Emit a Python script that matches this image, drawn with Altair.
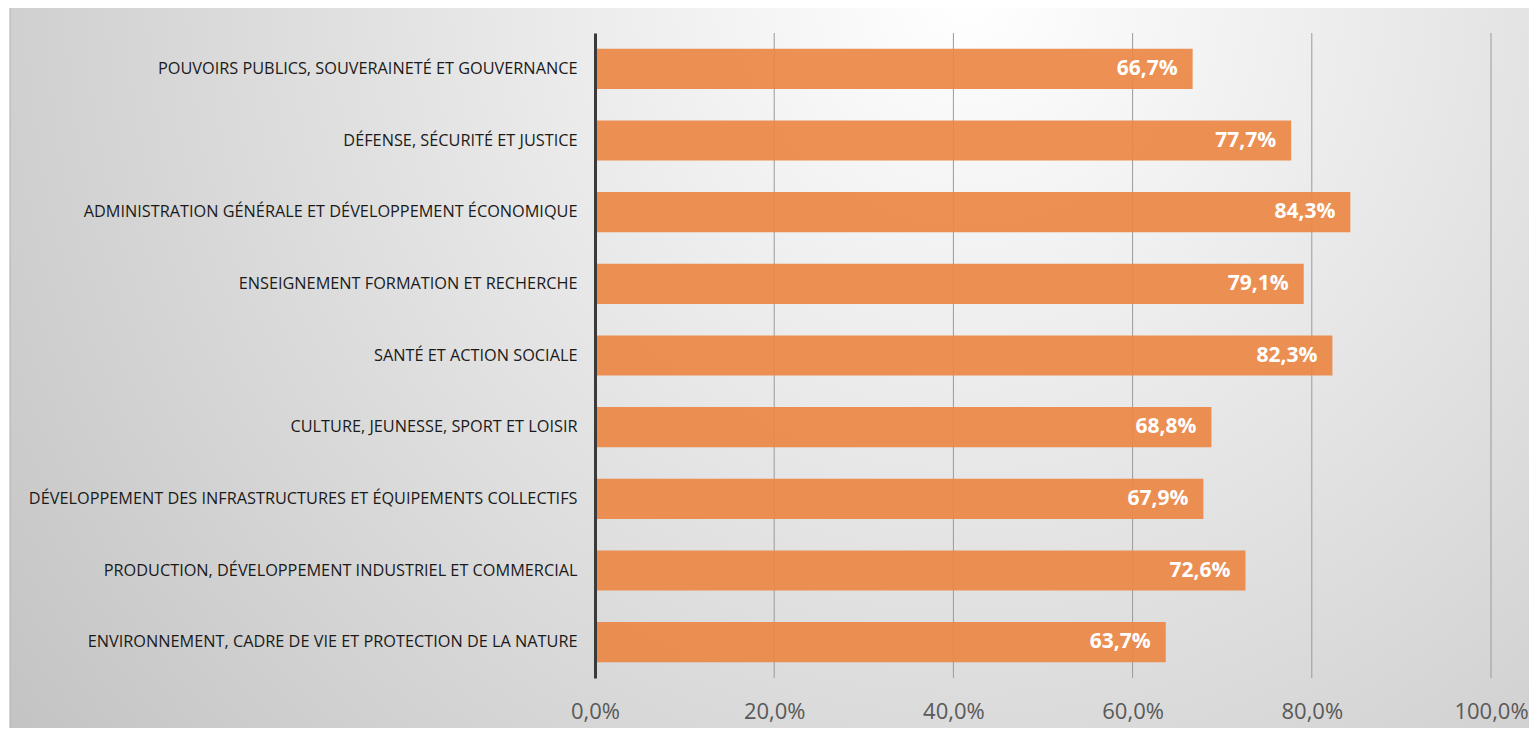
import altair as alt
import pandas as pd

categories = [
    "POUVOIRS PUBLICS, SOUVERAINETÉ ET GOUVERNANCE",
    "DÉFENSE, SÉCURITÉ ET JUSTICE",
    "ADMINISTRATION GÉNÉRALE ET DÉVELOPPEMENT ÉCONOMIQUE",
    "ENSEIGNEMENT FORMATION ET RECHERCHE",
    "SANTÉ ET ACTION SOCIALE",
    "CULTURE, JEUNESSE, SPORT ET LOISIR",
    "DÉVELOPPEMENT DES INFRASTRUCTURES ET ÉQUIPEMENTS COLLECTIFS",
    "PRODUCTION, DÉVELOPPEMENT INDUSTRIEL ET COMMERCIAL",
    "ENVIRONNEMENT, CADRE DE VIE ET PROTECTION DE LA NATURE",
]
values = [66.7, 77.7, 84.3, 79.1, 82.3, 68.8, 67.9, 72.6, 63.7]
x_ticks = [0, 20, 40, 60, 80, 100]
grid_ticks = [20, 40, 60, 80, 100]

df = pd.DataFrame({
    "cat": categories,
    "val": [v / 100 for v in values],
    "label": [f"{v:.1f}".replace(".", ",") + "%" for v in values],
})
grid_df = pd.DataFrame({"g": [t / 100 for t in grid_ticks]})

FONT = "Open Sans"

bg = alt.Chart(pd.DataFrame({"a": [0]})).mark_rect(
    clip=False,
    fill=alt.Gradient(
        gradient="radial",
        x1=0.62, y1=0.25, r1=0.0,
        x2=0.62, y2=0.25, r2=0.8,
        stops=[
            alt.GradientStop(offset=0, color="#ffffff"),
            alt.GradientStop(offset=1, color="#c2c2c2"),
        ],
    ),
    stroke="#b0b0b0",
    strokeWidth=1,
).encode(
    x=alt.value(-585), x2=alt.value(960),
    y=alt.value(-28), y2=alt.value(720),
)

xscale = alt.Scale(domain=[0, 1], nice=False)

grid = alt.Chart(grid_df).mark_rule(color="#9a9a9a", strokeWidth=1).encode(
    x=alt.X("g:Q", scale=xscale),
    y=alt.value(0), y2=alt.value(645),
)

ysort = categories
base = alt.Chart(df)

bars = base.mark_bar(color="#EB8744", opacity=0.92).encode(
    x=alt.X(
        "val:Q",
        scale=xscale,
        axis=alt.Axis(
            values=[t / 100 for t in x_ticks],
            labelExpr="replace(format(datum.value, '.1%'), '.', ',')",
            grid=False, domain=False, ticks=False, labelFlush=False,
            labelFont=FONT, labelFontSize=22, labelColor="#595959",
            labelPadding=23, title=None, zindex=1,
        ),
    ),
    y=alt.Y(
        "cat:N", sort=ysort,
        scale=alt.Scale(paddingInner=0.44, paddingOuter=0.22),
        axis=alt.Axis(
            title=None, ticks=False, domain=True,
            domainColor="#3a3a3a", domainWidth=3,
            labelFont=FONT, labelFontSize=16.3, labelColor="#1a1a1a",
            labelPadding=18, labelLimit=0, zindex=1,
        ),
    ),
)

texts = base.mark_text(
    align="right", baseline="middle", dx=-15,
    font=FONT, fontSize=21, fontWeight="bold", color="white",
).encode(
    x=alt.X("val:Q", scale=xscale),
    y=alt.Y("cat:N", sort=ysort),
    text="label:N",
)

chart = alt.layer(bg, grid, bars, texts).properties(
    width=896, height=645,
    autosize=alt.AutoSizeParams(type="none"),
    padding={"left": 587, "top": 25, "right": 38, "bottom": 50},
    background="white",
).configure_view(stroke=None)

chart.save("out.html", embed_options={"renderer": "svg", "actions": False})
